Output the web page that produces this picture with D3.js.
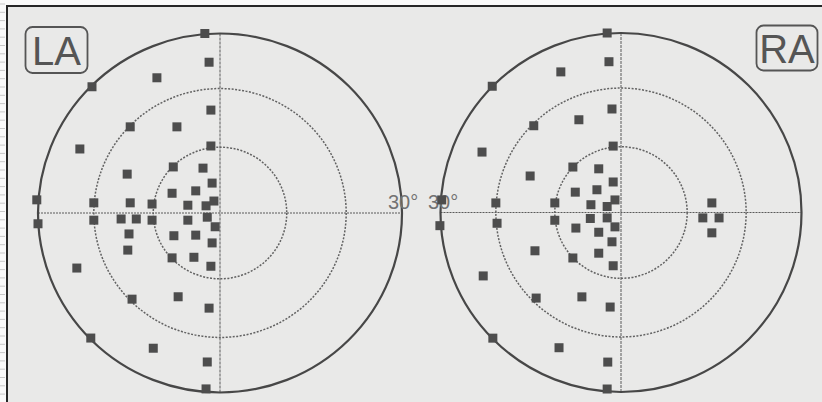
<!DOCTYPE html>
<html>
<head>
<meta charset="utf-8">
<script src="https://cdn.jsdelivr.net/npm/d3@7"></script>
<style>
  body { margin: 0; background: #fafafa; }
  svg { display: block; }
</style>
</head>
<body>
<script>
// visual field points, degrees (x = horizontal, y = vertical)
var laPoints = [
  [-2.5, 30.0], [-1.8, 25.2], [-10.4, 22.6], [-21.1, 21.1], [-1.5, 17.2],
  [-14.8, 14.4], [-7.1, 14.4], [-23.1, 10.7], [-1.5, 11.2], [-7.7, 7.7],
  [-2.8, 7.5], [-15.3, 6.5], [-1.3, 5.0], [-7.9, 3.3], [-4.0, 3.7],
  [-30.2, 2.2], [-20.8, 1.7], [-14.8, 1.7], [-11.2, 1.5], [-5.3, 1.3],
  [-2.3, 1.2], [-1.0, 2.0],
  [-30.0, -1.8], [-20.8, -1.2], [-16.3, -1.0], [-13.8, -1.0], [-11.2, -1.2],
  [-5.3, -1.2], [-2.1, -0.7], [-0.8, -2.3], [-15.0, -3.5], [-7.6, -3.8],
  [-4.0, -3.7], [-1.3, -5.0], [-15.2, -6.2], [-7.9, -7.5], [-4.3, -7.4],
  [-1.5, -8.9], [-23.6, -9.2], [-14.5, -14.4], [-6.9, -14.0], [-1.8, -15.9],
  [-21.3, -20.9], [-11.0, -22.6], [-2.1, -24.9], [-2.3, -29.4]
];
var raPoints = [
  [-2.3, 30.0], [-2.0, 25.2], [-10.0, 23.5], [-21.4, 21.1], [-1.5, 17.3],
  [-14.5, 14.5], [-7.0, 15.5], [-23.1, 10.1], [-1.3, 11.1], [-8.0, 7.6],
  [-3.7, 7.3], [-15.1, 6.1], [-1.3, 5.1], [-7.6, 3.4], [-4.0, 3.8],
  [-29.8, 2.1], [-20.8, 1.6], [-11.0, 1.6], [-5.0, 1.3], [-2.3, 1.0],
  [-1.0, 2.1],
  [-30.1, -2.2], [-20.6, -1.8], [-11.0, -1.3], [-5.1, -1.0], [-2.3, -0.9],
  [-1.0, -2.4], [-7.5, -2.6], [-3.7, -3.3], [-1.5, -4.9], [-14.3, -6.4],
  [-8.0, -7.6], [-3.7, -6.8], [-1.3, -8.9], [-22.9, -10.6], [-14.1, -14.3],
  [-6.5, -14.1], [-1.8, -15.8], [-21.3, -21.0], [-10.3, -22.6], [-2.2, -25.0],
  [-2.3, -29.5],
  [15.1, 1.6], [13.6, -0.9], [16.3, -0.9], [15.1, -3.4]
];
var rings = [11, 20.8, 30];
var eyeLabels = ["LA", "RA"];
var edgeLabel = "30°";

var W = 822, H = 402;
var svg = d3.select("body").append("svg").attr("width", W).attr("height", H);

// ruled page margin on the left
svg.selectAll("line.margin")
   .data(d3.range(4, H, 8.3))
   .enter().append("line")
   .attr("x1", 0).attr("x2", 5)
   .attr("y1", function(d) { return d; }).attr("y2", function(d) { return d; })
   .attr("stroke", "#c8c8c8").attr("stroke-width", 1);

svg.append("rect")
   .attr("x", 7).attr("y", 6).attr("width", W + 10).attr("height", H + 10)
   .attr("fill", "#e9e9e8").attr("stroke", "#262626").attr("stroke-width", 2);

var panels = [
  { pts: laPoints, cx: 220, cy: 213, rx: 182, ry: 179.5, label: eyeLabels[0],
    box: { x: 25.5, y: 27, w: 62, h: 46 }, edgeX: 388 },
  { pts: raPoints, cx: 621, cy: 212.5, rx: 180.5, ry: 179.5, label: eyeLabels[1],
    box: { x: 756.5, y: 25.5, w: 61, h: 45 }, edgeX: 428 }
];

panels.forEach(function(p) {
  var x = d3.scaleLinear().domain([-30, 30]).range([p.cx - p.rx, p.cx + p.rx]);
  var y = d3.scaleLinear().domain([-30, 30]).range([p.cy + p.ry, p.cy - p.ry]);
  var g = svg.append("g");

  // crosshair
  g.append("line")
   .attr("x1", x(-30)).attr("x2", x(30)).attr("y1", y(0)).attr("y2", y(0))
   .attr("stroke", "#5a5a5a").attr("stroke-width", 1).attr("stroke-dasharray", "2,1");
  g.append("line")
   .attr("x1", x(0)).attr("x2", x(0)).attr("y1", y(30)).attr("y2", y(-30))
   .attr("stroke", "#5a5a5a").attr("stroke-width", 1).attr("stroke-dasharray", "3,1");

  g.selectAll("ellipse")
   .data(rings)
   .enter().append("ellipse")
   .attr("cx", x(0)).attr("cy", y(0))
   .attr("rx", function(d) { return x(d) - x(0); })
   .attr("ry", function(d) { return y(0) - y(d); })
   .attr("fill", "none")
   .attr("stroke", function(d, i) { return i == rings.length - 1 ? "#474747" : "#626262"; })
   .attr("stroke-width", function(d, i) { return i == rings.length - 1 ? 2.2 : 1.5; })
   .attr("stroke-dasharray", function(d, i) { return i == rings.length - 1 ? null : "2,1.5"; });

  g.append("text")
   .attr("x", p.edgeX).attr("y", y(0) - 4)
   .attr("font-family", "Liberation Sans, Arial, sans-serif")
   .attr("font-size", 20)
   .attr("fill", "#727272")
   .text(edgeLabel);

  g.selectAll("rect.pt")
   .data(p.pts)
   .enter().append("rect")
   .attr("class", "pt")
   .attr("x", function(d) { return x(d[0]) - 4.5; })
   .attr("y", function(d) { return y(d[1]) - 4.5; })
   .attr("width", 9).attr("height", 9)
   .attr("fill", "#4d4d4d");

  // eye label box
  g.append("rect")
   .attr("x", p.box.x).attr("y", p.box.y)
   .attr("width", p.box.w).attr("height", p.box.h)
   .attr("rx", 7)
   .attr("fill", "none").attr("stroke", "#555").attr("stroke-width", 1.8);
  g.append("text")
   .attr("x", p.box.x + p.box.w / 2).attr("y", p.box.y + p.box.h - 8)
   .attr("text-anchor", "middle")
   .attr("font-family", "Liberation Sans, Arial, sans-serif")
   .attr("font-size", 40)
   .attr("fill", "#555")
   .text(p.label);
});
</script>
</body>
</html>
